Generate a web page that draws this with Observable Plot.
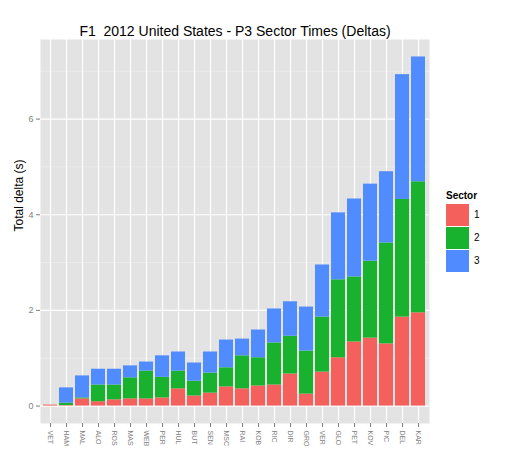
<!DOCTYPE html>
<html><head><meta charset="utf-8">
<script src="https://cdn.jsdelivr.net/npm/d3@7"></script>
<script src="https://cdn.jsdelivr.net/npm/@observablehq/plot@0.6"></script>
<style>
body{margin:0;background:#fff;font-family:"Liberation Sans",Arial,sans-serif;}
#wrap{position:relative;width:513px;height:456px;}
#legend{position:absolute;left:446px;top:190px;font-size:10px;color:#000;}
#legend .t{font-weight:bold;font-size:10px;margin-bottom:2px;}
#legend .row{display:flex;align-items:center;height:23px;}
#legend .key{width:23px;height:22px;margin-right:5px;}
</style></head><body><div id="wrap"></div>
<script>
const drivers = ["VET","HAM","MAL","ALO","ROS","MAS","WEB","PER","HUL","BUT","SEN","MSC","RAI","KOB","RIC","DIR","GRO","VER","GLO","PET","KOV","PIC","DEL","KAR"];
const sector1 = [0.02,0.01,0.15,0.09,0.13,0.15,0.15,0.17,0.36,0.21,0.27,0.40,0.36,0.42,0.44,0.67,0.25,0.71,1.01,1.34,1.42,1.30,1.86,1.95];
const sector2 = [0.00,0.05,0.02,0.35,0.31,0.44,0.58,0.43,0.37,0.31,0.42,0.40,0.69,0.59,0.88,0.79,0.90,1.15,1.63,1.36,1.61,2.11,2.46,2.74];
const sector3 = [0.00,0.32,0.46,0.33,0.33,0.25,0.19,0.45,0.40,0.38,0.44,0.58,0.35,0.58,0.71,0.72,0.92,1.09,1.40,1.63,1.61,1.49,2.61,2.61];
const sectors = ["1","2","3"];
const colors = ["#f4615c","#18b22f","#508bff"];
const yTicks = [0,2,4,6];
const yMinor = [1,3,5,7];
const title = "F1  2012 United States - P3 Sector Times (Deltas)";
const yLabel = "Total delta (s)";

const rows = [];
[sector1, sector2, sector3].forEach((vals, k) =>
  vals.forEach((v, i) => rows.push({driver: drivers[i], sector: sectors[k], delta: v})));

const chart = Plot.plot({
  width: 513, height: 456,
  marginLeft: 40, marginRight: 84, marginTop: 39, marginBottom: 33,
  style: {fontFamily: '"Liberation Sans", Arial, sans-serif', background: "#fff", overflow: "visible"},
  x: {domain: drivers, paddingInner: 0.1, paddingOuter: 0.15, label: null},
  y: {domain: [-0.365, 7.665], label: null},
  color: {domain: sectors, range: colors},
  marks: [
    Plot.frame({fill: "#e3e3e3", stroke: "none"}),
    Plot.gridY(yMinor, {stroke: "#f2f2f2", strokeOpacity: 1, strokeWidth: 0.6}),
    Plot.gridY(yTicks, {stroke: "#fff", strokeOpacity: 1, strokeWidth: 1.2}),
    Plot.gridX({stroke: "#fff", strokeOpacity: 1, strokeWidth: 1.2}),
    Plot.barY(rows, {x: "driver", y: "delta", fill: "sector", z: "sector"}),
    Plot.axisY(yTicks, {tickSize: 4, tickPadding: 3, fontSize: 9, color: "#7f7f7f", label: null}),
    Plot.axisX({tickRotate: 90, tickSize: 4, tickPadding: 3, fontSize: 7, color: "#7f7f7f", label: null}),
    Plot.text([title], {frameAnchor: "top", dy: -4, fontSize: 14, fill: "#000", lineAnchor: "bottom"}),
    Plot.text([yLabel], {frameAnchor: "left", dx: -21, rotate: -90, fontSize: 12, fill: "#000"})
  ]
});
document.getElementById("wrap").appendChild(chart);

const lg = document.createElement("div");
lg.id = "legend";
lg.innerHTML = '<div class="t">Sector</div>' + sectors.map((s, i) =>
  `<div class="row"><div class="key" style="background:${colors[i]}"></div><span>${s}</span></div>`).join("");
document.getElementById("wrap").appendChild(lg);
</script></body></html>
